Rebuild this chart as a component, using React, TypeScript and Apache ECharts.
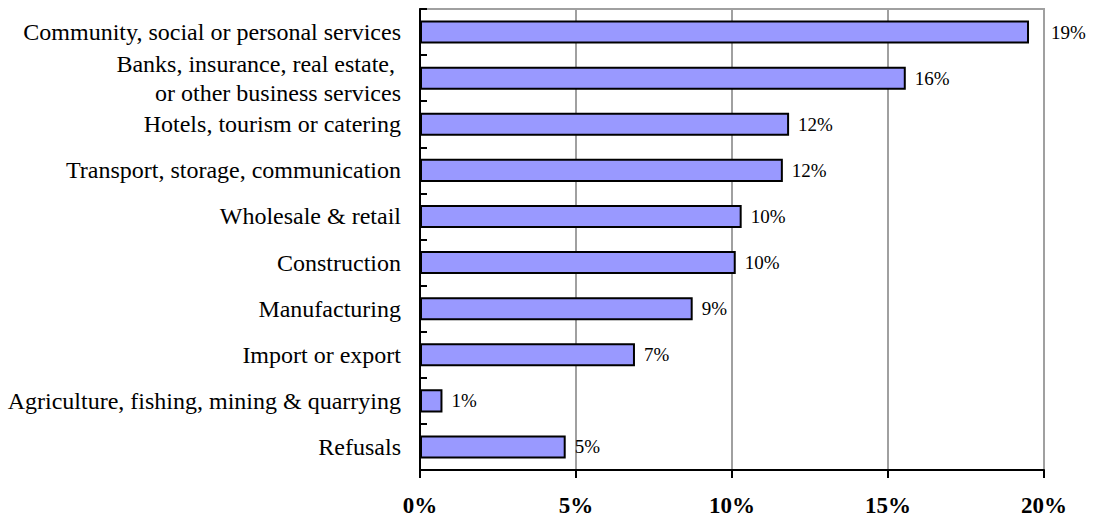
import React, { useEffect, useRef } from "react";
import * as echarts from "echarts";

const categories: string[] = [
  "Community, social or personal services",
  "Banks, insurance, real estate, \nor other business services",
  "Hotels, tourism or catering",
  "Transport, storage, communication",
  "Wholesale & retail",
  "Construction",
  "Manufacturing",
  "Import or export",
  "Agriculture, fishing, mining & quarrying",
  "Refusals",
];

const values: number[] = [19.52, 15.57, 11.83, 11.63, 10.31, 10.12, 8.74, 6.89, 0.72, 4.67];
const valueLabels: string[] = ["19%", "16%", "12%", "12%", "10%", "10%", "9%", "7%", "1%", "5%"];
const xTicks: number[] = [0, 5, 10, 15, 20];

const FONT = "'Liberation Serif', 'Times New Roman', serif";

export default function App() {
  const ref = useRef<HTMLDivElement>(null);

  useEffect(() => {
    if (!ref.current) return;
    const chart = echarts.init(ref.current, undefined, { renderer: "svg" });
    const data = values.map((v, i) => ({
      value: v,
      label: i === 0 ? { distance: 22 } : undefined,
    }));
    chart.setOption({
      animation: false,
      backgroundColor: "#ffffff",
      grid: {
        left: 420,
        right: 53,
        top: 9,
        bottom: 47,
        show: true,
        borderColor: "#a0a0a0",
        borderWidth: 2,
        backgroundColor: "transparent",
      },
      xAxis: {
        type: "value",
        min: xTicks[0],
        max: xTicks[xTicks.length - 1],
        interval: 5,
        axisLine: { show: true, lineStyle: { color: "#000", width: 2 } },
        axisTick: { show: true, length: 8, lineStyle: { color: "#000", width: 2 } },
        splitLine: { show: true, lineStyle: { color: "#a0a0a0", width: 2 } },
        axisLabel: {
          formatter: (v: number) => `${v}%`,
          fontFamily: FONT,
          fontSize: 23,
          fontWeight: "bold",
          color: "#000",
          margin: 24,
        },
      },
      yAxis: {
        type: "category",
        inverse: true,
        data: categories,
        axisLine: { show: true, lineStyle: { color: "#000", width: 2 } },
        axisTick: { show: true, inside: true, length: 7, lineStyle: { color: "#000", width: 2 } },
        splitLine: { show: false },
        axisLabel: {
          fontFamily: FONT,
          fontSize: 24,
          color: "#000",
          margin: 19,
          lineHeight: 29,
          align: "right",
        },
      },
      series: [
        {
          type: "bar",
          data,
          barWidth: "50%",
          itemStyle: { color: "#9999ff", borderColor: "#000", borderWidth: 2 },
          label: {
            show: true,
            position: "right",
            distance: 9,
            fontFamily: FONT,
            fontSize: 19,
            color: "#000",
            formatter: (p: any) => valueLabels[p.dataIndex],
          },
        },
      ],
    });
    return () => chart.dispose();
  }, []);

  return (
    <div
      ref={ref}
      style={{ position: "fixed", left: 0, top: 0, width: 1097, height: 517 }}
    />
  );
}
